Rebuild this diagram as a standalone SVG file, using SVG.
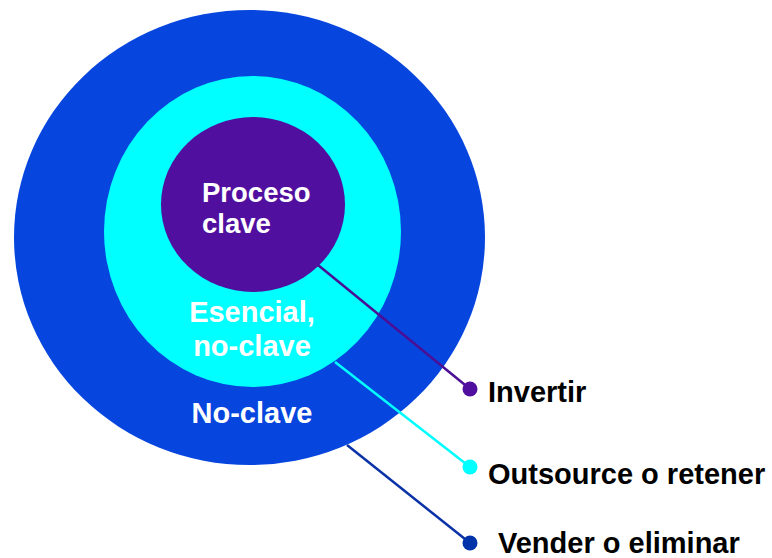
<svg xmlns="http://www.w3.org/2000/svg" width="772" height="558" viewBox="0 0 772 558">
  <style>
    .lbl { font-family: "Liberation Sans", Arial, sans-serif; font-weight: bold; font-size: 29px; }
    .core { font-size: 27.5px; }
    .in { fill: #ffffff; }
    .out { fill: #000000; }
    .lead { fill: none; stroke-width: 2.5; }
  </style>
  <rect width="772" height="558" fill="#ffffff"/>

  <!-- concentric rings: outermost first -->
  <g id="no-clave">
    <ellipse cx="249.5" cy="237.5" rx="235.5" ry="227.5" fill="#0645de"/>
    <text class="lbl in" x="252" y="423" text-anchor="middle">No-clave</text>
  </g>
  <g id="esencial">
    <ellipse cx="252.5" cy="231.5" rx="148.5" ry="155.5" fill="#00ffff"/>
    <text class="lbl in" x="252" y="322" text-anchor="middle">Esencial,</text>
    <text class="lbl in" x="252" y="356" text-anchor="middle">no-clave</text>
  </g>
  <g id="proceso-clave">
    <ellipse cx="253" cy="204.5" rx="92" ry="87.5" fill="#510f9f"/>
    <text class="lbl core in" x="202" y="202">Proceso</text>
    <text class="lbl core in" x="202" y="233">clave</text>
  </g>

  <!-- leader lines from each ring to its action label -->
  <g id="connectors">
    <line class="lead" x1="318" y1="265" x2="470" y2="389" stroke="#4b0f95"/>
    <circle cx="470" cy="389" r="7.5" fill="#510f9f"/>
    <line class="lead" x1="335" y1="362" x2="470" y2="467" stroke="#00ffff"/>
    <circle cx="470" cy="467" r="7.5" fill="#00ffff"/>
    <line class="lead" x1="347" y1="445" x2="470" y2="543" stroke="#0a32a6"/>
    <circle cx="470" cy="543" r="7.5" fill="#0033aa"/>
  </g>

  <g id="acciones">
    <text class="lbl out" x="488" y="402">Invertir</text>
    <text class="lbl out" x="488" y="484">Outsource o retener</text>
    <text class="lbl out" x="498" y="553">Vender o eliminar</text>
  </g>
</svg>
